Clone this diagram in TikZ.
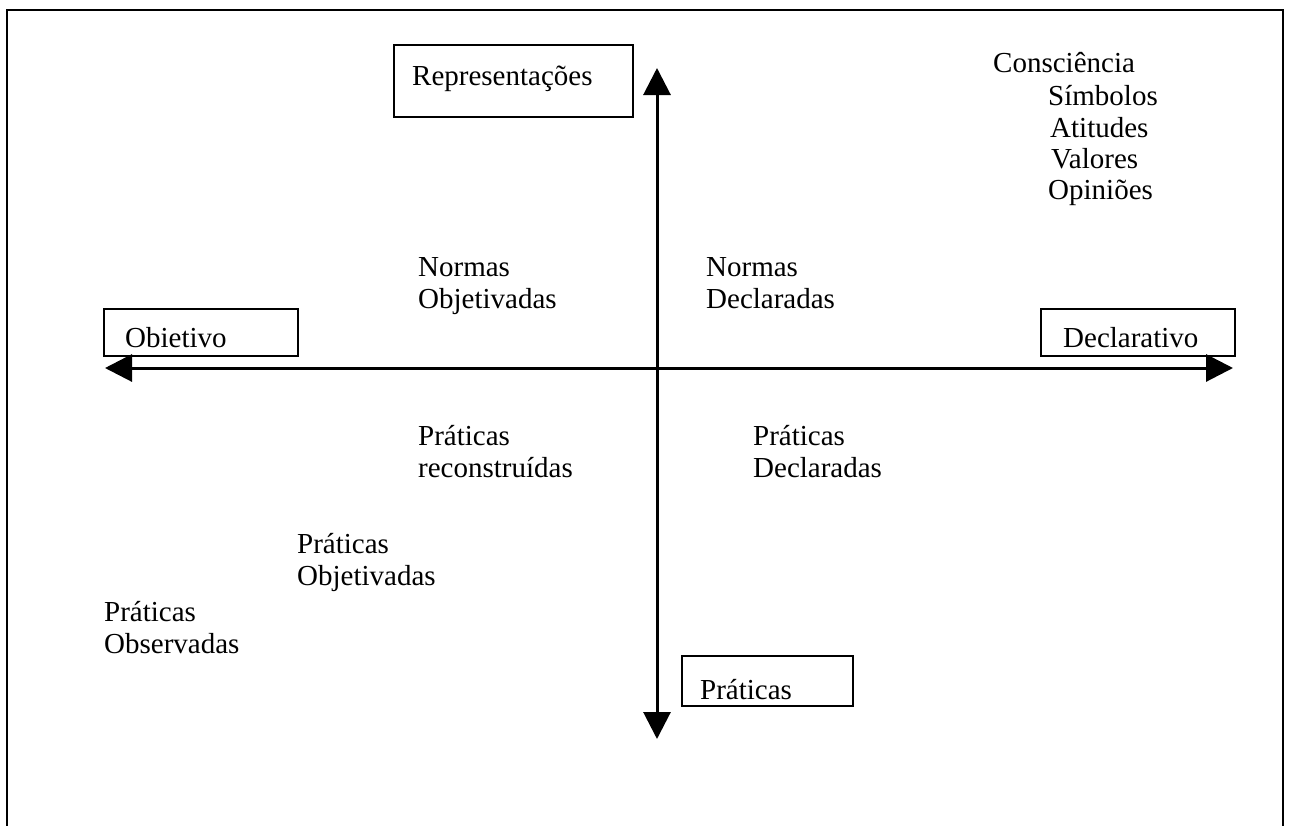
\documentclass[tikz,border=0pt]{standalone}
\usepackage{fontspec}
\setmainfont{Liberation Serif}
\usetikzlibrary{arrows.meta}
\tikzset{
  frameline/.style={line width=2.5pt, line cap=rect},
  boxnode/.style={draw, line width=2pt, rectangle, inner sep=0pt, anchor=north west},
  lbl/.style={anchor=base west, inner sep=0pt, align=left, font=\fontsize{29}{32}\selectfont},
  axis/.style={line width=3pt, {Triangle[length=27pt,width=27pt]}-{Triangle[length=27pt,width=27pt]}}
}
\begin{document}
\begin{tikzpicture}[x=1pt,y=-1pt]
\useasboundingbox (0,0) rectangle (1290,825);
\clip (0,0) rectangle (1290,825);
% outer frame (open at the bottom)
\draw[frameline] (7,840) -- (7,10) -- (1283,10) -- (1283,840);
% boxes
\node[boxnode, minimum width=239pt, minimum height=72pt] (repbox) at (393,44) {};
\node[boxnode, minimum width=194pt, minimum height=47pt] (objbox) at (103,308) {};
\node[boxnode, minimum width=194pt, minimum height=47pt] (decbox) at (1040,308) {};
\node[boxnode, minimum width=171pt, minimum height=50pt] (prabox) at (681,655) {};
% box labels
\node[lbl] (rep) at (412,85) {Representações};
\node[lbl] (obj) at (125,347) {Obietivo};
\node[lbl] (dec) at (1063,347) {Declarativo};
\node[lbl] (pra) at (700,699) {Práticas};
% axes
\coordinate (ytop) at (657,68);
\coordinate (ybot) at (657,739);
\coordinate (xleft) at (105,368);
\coordinate (xright) at (1233,368);
\draw[axis] (ybot) -- (ytop);
\draw[axis] (xleft) -- (xright);
% free texts (base anchor = baseline of the last line)
\node[lbl] (consc) at (993,72) {Consciência};
\node[lbl] (simb) at (1048,105) {Símbolos};
\node[lbl] (atit) at (1050,137) {Atitudes};
\node[lbl] (valo) at (1051,168) {Valores};
\node[lbl] (opin) at (1048,199) {Opiniões};
\node[lbl] (nobj) at (418,308) {Normas\\Objetivadas};
\node[lbl] (ndec) at (706,308) {Normas\\Declaradas};
\node[lbl] (prec) at (418,477) {Práticas\\reconstruídas};
\node[lbl] (pdec) at (753,477) {Práticas\\Declaradas};
\node[lbl] (pobj) at (297,585) {Práticas\\Objetivadas};
\node[lbl] (pobs) at (104,653) {Práticas\\Observadas};
\end{tikzpicture}
\end{document}
